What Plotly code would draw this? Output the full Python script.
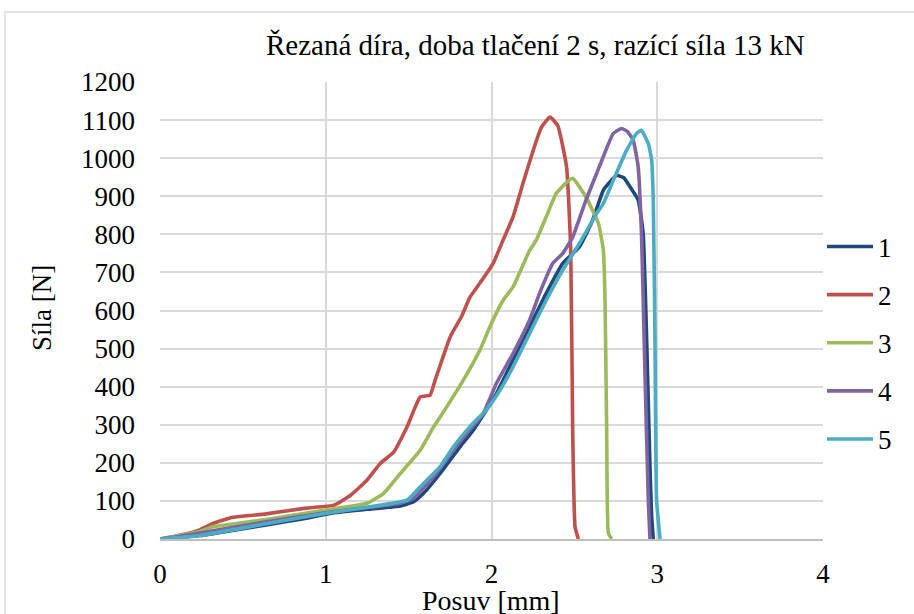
import plotly.graph_objects as go

title_text = "Řezaná díra, doba tlačení 2 s, razící síla 13 kN"
series_names = ["1", "2", "3", "4", "5"]
series_colors = ["#1F497D", "#C0504D", "#9BBB59", "#8064A2", "#4BACC6"]

x1 = [0, 0.1, 0.24, 0.4, 0.64, 0.85, 1.05, 1.25, 1.45, 1.53, 1.59, 1.69, 1.81, 1.89, 1.97, 2.03, 2.13, 2.23, 2.33, 2.43, 2.53, 2.61, 2.675, 2.72, 2.755, 2.8, 2.835, 2.885, 2.915, 2.935, 2.956, 2.966, 2.976]
y1 = [0, 4, 9, 20, 37, 52, 69, 78, 87, 98, 120, 172, 242, 286, 339, 382, 470, 557, 645, 724, 767, 837, 916, 940, 955, 948, 925, 890, 802, 540, 190, 60, 0]

x2 = [0, 0.1, 0.24, 0.32, 0.44, 0.64, 0.88, 1.05, 1.15, 1.25, 1.33, 1.41, 1.49, 1.57, 1.63, 1.66, 1.75, 1.82, 1.87, 1.93, 2.01, 2.07, 2.13, 2.19, 2.252, 2.3, 2.353, 2.4, 2.453, 2.478, 2.49, 2.504, 2.524]
y2 = [0, 8, 24, 41, 57, 66, 81, 89, 115, 155, 199, 228, 294, 373, 378, 417, 530, 585, 635, 672, 724, 785, 846, 934, 1021, 1080, 1108, 1085, 977, 758, 278, 32, 0]

x3 = [0, 0.1, 0.24, 0.32, 0.64, 1.0, 1.25, 1.35, 1.45, 1.57, 1.65, 1.73, 1.83, 1.93, 1.99, 2.07, 2.13, 2.23, 2.27, 2.33, 2.39, 2.45, 2.49, 2.57, 2.645, 2.675, 2.685, 2.695, 2.705, 2.725]
y3 = [0, 8, 20, 32, 51, 76, 94, 120, 172, 233, 294, 347, 417, 496, 557, 627, 662, 758, 785, 846, 907, 935, 947, 898, 829, 758, 627, 278, 16, 0]

x4 = [0, 0.1, 0.24, 0.64, 1.05, 1.45, 1.53, 1.65, 1.77, 1.85, 1.95, 2.03, 2.13, 2.23, 2.29, 2.37, 2.43, 2.49, 2.57, 2.65, 2.735, 2.785, 2.82, 2.855, 2.885, 2.905, 2.925, 2.946, 2.956]
y4 = [0, 6, 16, 45, 72, 94, 107, 163, 233, 277, 329, 409, 487, 575, 645, 724, 750, 793, 890, 977, 1065, 1078, 1070, 1047, 977, 802, 452, 102, 0]

x5 = [0, 0.1, 0.24, 0.64, 1.05, 1.49, 1.57, 1.69, 1.77, 1.87, 1.97, 2.05, 2.13, 2.23, 2.33, 2.43, 2.53, 2.635, 2.675, 2.735, 2.815, 2.875, 2.905, 2.946, 2.966, 2.976, 2.986, 2.996, 3.017]
y5 = [0, 3, 9, 40, 71, 102, 137, 190, 242, 295, 340, 390, 452, 540, 627, 706, 776, 855, 881, 942, 1021, 1065, 1073, 1038, 995, 890, 540, 102, 0]

xs = [x1, x2, x3, x4, x5]
ys = [y1, y2, y3, y4, y5]

x_ticks = [0, 1, 2, 3, 4]
y_ticks = list(range(0, 1300, 100))

FONT = "Liberation Serif"
FS = 27

fig = go.Figure()
for name, color, x, y in zip(series_names, series_colors, xs, ys):
    fig.add_trace(go.Scatter(x=x, y=y, mode="lines", name=name, legendgroup=name,
                             line=dict(color=color, width=3.6, shape="spline", smoothing=0.4)))

L, R, T, B = 160, 91, 82, 75
W, H = 914, 614
pw, ph = W - L - R, H - T - B

def px_to_paper_x(px):
    return (px - L) / pw

def px_to_paper_y(py):
    return (H - B - py) / ph

fig.update_layout(
    width=W, height=H,
    margin=dict(l=L, r=R, t=T, b=B),
    paper_bgcolor="white", plot_bgcolor="white",
    font=dict(family=FONT, size=FS, color="black"),
    showlegend=True,
    legend=dict(x=px_to_paper_x(822), y=px_to_paper_y(343), xanchor="left", yanchor="middle",
                font=dict(family=FONT, size=FS, color="black"),
                tracegroupgap=10, itemwidth=46, bgcolor="rgba(0,0,0,0)"),
    annotations=[
        dict(text=title_text, x=px_to_paper_x(535), y=px_to_paper_y(45), xref="paper", yref="paper",
             showarrow=False, xanchor="center", yanchor="middle",
             font=dict(family=FONT, size=29, color="black")),
        dict(text="Posuv [mm]", x=px_to_paper_x(491), y=px_to_paper_y(600), xref="paper", yref="paper",
             showarrow=False, xanchor="center", yanchor="middle",
             font=dict(family=FONT, size=28, color="black")),
        dict(text="Síla [N]", x=px_to_paper_x(42), y=px_to_paper_y(308), xref="paper", yref="paper",
             showarrow=False, xanchor="center", yanchor="middle", textangle=-90,
             font=dict(family=FONT, size=27, color="black")),
    ],
    shapes=[
        dict(type="rect", xref="paper", yref="paper",
             x0=px_to_paper_x(5), x1=px_to_paper_x(1000),
             y0=px_to_paper_y(700), y1=px_to_paper_y(12),
             line=dict(color="#d9d9d9", width=1.5), fillcolor="rgba(0,0,0,0)", layer="below"),
    ],
)

fig.update_xaxes(range=[0, 4], tickvals=x_ticks, ticktext=[str(v) for v in x_ticks],
                 showgrid=True, gridcolor="#d9d9d9", gridwidth=1.5,
                 showline=True, linecolor="#bfbfbf", linewidth=1.5,
                 zeroline=False, ticks="", ticklabelstandoff=10,
                 tickfont=dict(family=FONT, size=FS, color="black"))
fig.update_yaxes(range=[0, 1200], tickvals=y_ticks, ticktext=[str(v) for v in y_ticks],
                 showgrid=True, gridcolor="#d9d9d9", gridwidth=1.5,
                 showline=False, zeroline=False, ticks="", ticklabelstandoff=24,
                 tickfont=dict(family=FONT, size=FS, color="black"))

fig.write_html("out.html", config={"displayModeBar": False},
               post_script="document.body.style.margin='0px';")
